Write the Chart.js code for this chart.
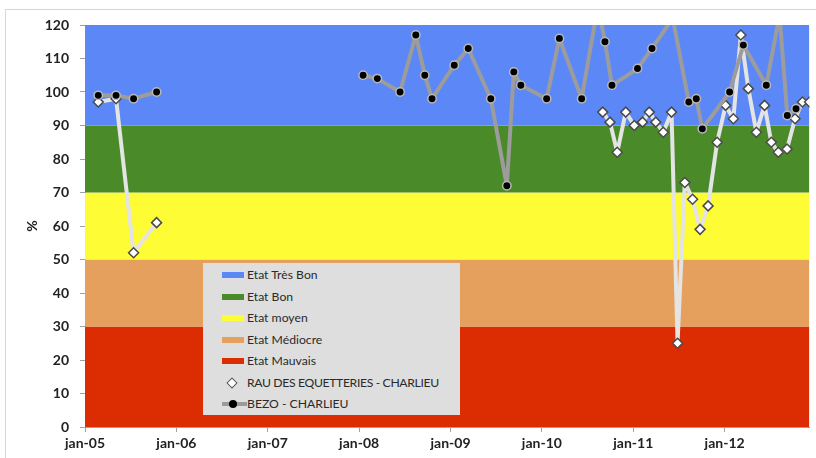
<!DOCTYPE html>
<html>
<head>
<meta charset="utf-8">
<script src="https://cdn.jsdelivr.net/npm/chart.js@4/dist/chart.umd.min.js"></script>
<style>
  html, body { margin: 0; padding: 0; background: #fff; }
  #wrap { position: relative; width: 816px; height: 458px; overflow: hidden; }
  #frame { position: absolute; left: 5px; top: 9px; width: 900px; height: 600px; border: 1px solid #d6d6d6; box-sizing: border-box; }
  canvas { position: absolute; left: 0; top: 0; }
  #legend { position: absolute; left: 203px; top: 263px; width: 257px; height: 152px; background: #dedede; font-family: Lato, "Open Sans", sans-serif; font-size: 12.2px; color: #2a2a2a; }
  .item { position: absolute; left: 0; height: 20px; width: 257px; }
  .sw { position: absolute; left: 19px; top: 7px; width: 22px; height: 6px; }
  .txt { position: absolute; left: 44px; top: 1px; white-space: nowrap; line-height: 18px; }
  .dia { position: absolute; left: 25px; top: 6px; width: 6px; height: 6px; transform: rotate(45deg); background: #fff; border: 1.5px solid #555; }
  .ln { position: absolute; left: 19px; top: 8px; width: 25px; height: 4px; background: #9a9a9a; }
  .dot { position: absolute; left: 26px; top: 6px; width: 8px; height: 8px; border-radius: 50%; background: #000; }
</style>
</head>
<body>
<div id="wrap">
  <div id="frame"></div>
  <canvas id="c" width="816" height="458"></canvas>
  <div id="legend"></div>
</div>
<script>
// ---- data ----
const xTickLabels = ['jan-05','jan-06','jan-07','jan-08','jan-09','jan-10','jan-11','jan-12'];
const yTickValues = [0,10,20,30,40,50,60,70,80,90,100,110,120];

const bandLabels = ['Etat Très Bon','Etat Bon','Etat moyen','Etat Médiocre','Etat Mauvais'];
const bandUpper  = [120, 90, 70, 50, 30];
const bandColors = ['#5b88f6','#4a8a28','#fefc35','#e6a05e','#dc2c02'];

const rauLabel = 'RAU DES EQUETTERIES - CHARLIEU';
const rauDates = ['2005-02-23','2005-05-05','2005-07-14','2005-10-14',
  '2010-09-01','2010-09-30','2010-10-29','2010-12-02','2011-01-05','2011-02-07','2011-03-06','2011-04-01',
  '2011-05-01','2011-06-03','2011-06-27','2011-07-26','2011-08-26','2011-09-25','2011-10-27','2011-12-02',
  '2012-01-05','2012-02-05','2012-03-06','2012-04-05','2012-05-07','2012-06-09','2012-07-06','2012-08-03',
  '2012-09-07','2012-10-09','2012-11-08','2012-12-06'];
const rauValues = [97,98,52,61,
  94,91,82,94,90,91,94,91,
  88,94,25,73,68,59,66,85,
  96,92,117,101,88,96,85,82,
  83,92,97,97];

const bezoLabel = 'BEZO - CHARLIEU';
const bezoDates = ['2005-02-23','2005-05-05','2005-07-14','2005-10-14',
  '2008-01-17','2008-03-14','2008-06-13','2008-08-15','2008-09-20','2008-10-19',
  '2009-01-16','2009-03-13','2009-06-11','2009-08-14','2009-09-11','2009-10-09',
  '2010-01-20','2010-03-12','2010-06-09','2010-08-13','2010-09-10','2010-10-08',
  '2011-01-18','2011-03-17','2011-06-08','2011-08-11','2011-09-10','2011-10-04',
  '2012-01-21','2012-03-16','2012-06-16','2012-08-08','2012-09-08','2012-10-13'];
const bezoValues = [99,99,98,100,
  105,104,100,117,105,98,
  108,113,98,72,106,102,
  98,116,98,126,115,102,
  107,113,122,97,98,89,
  100,114,102,123,93,95];

// ---- helpers ----
function toYear(s) {
  const d = new Date(s + 'T00:00:00Z');
  const y = d.getUTCFullYear();
  const a = Date.UTC(y, 0, 1), b = Date.UTC(y + 1, 0, 1);
  return y + (d.getTime() - a) / (b - a);
}
const tickYears = xTickLabels.map(l => 2000 + parseInt(l.slice(4), 10));
const xMin = tickYears[0];
const xMax = toYear(rauDates[rauDates.length - 1]);

const pts = (dates, vals) => dates.map((d, i) => ({ x: toYear(d), y: vals[i] }));

const datasets = bandLabels.map((lab, i) => ({
  label: lab,
  data: [{ x: xMin, y: bandUpper[i] }, { x: xMax, y: bandUpper[i] }],
  borderWidth: 0,
  borderColor: 'rgba(0,0,0,0)',
  backgroundColor: bandColors[i],
  pointRadius: 0,
  fill: i < bandLabels.length - 1 ? i + 1 : 'origin',
  order: 10,
  _swatch: bandColors[i]
}));

datasets.push({
  label: rauLabel,
  data: pts(rauDates, rauValues),
  borderColor: '#e4e4e4',
  borderWidth: 4,
  borderJoinStyle: 'round',
  borderCapStyle: 'round',
  backgroundColor: '#ffffff',
  pointStyle: 'rectRot',
  pointRadius: 5,
  pointBorderColor: '#4a4a4a',
  pointBorderWidth: 1.5,
  pointBackgroundColor: '#ffffff',
  spanGaps: 1,
  fill: false,
  order: 2,
  _kind: 'diamond'
});
datasets.push({
  label: bezoLabel,
  data: pts(bezoDates, bezoValues),
  borderColor: '#9c9c9c',
  borderWidth: 4,
  borderJoinStyle: 'round',
  borderCapStyle: 'round',
  backgroundColor: '#000',
  pointStyle: 'circle',
  pointRadius: 4.2,
  pointBorderColor: '#b8b8b8',
  pointBorderWidth: 1.5,
  pointBackgroundColor: '#000000',
  spanGaps: 1,
  fill: false,
  order: 1,
  _kind: 'linedot'
});

const tickFont = { family: 'Lato, "Open Sans", sans-serif', size: 14, weight: 'bold' };

const chart = new Chart(document.getElementById('c'), {
  type: 'line',
  data: { datasets },
  options: {
    responsive: false,
    animation: false,
    devicePixelRatio: 1,
    layout: { padding: { top: 25, right: 4, left: 0, bottom: 0 } },
    plugins: { legend: { display: false }, tooltip: { enabled: false } },
    elements: { line: { tension: 0 } },
    scales: {
      x: {
        type: 'linear',
        min: xMin,
        max: xMax,
        afterBuildTicks: s => { s.ticks = tickYears.map(v => ({ value: v })); },
        afterFit: s => { s.height = 31; },
        ticks: {
          autoSkip: false,
          maxRotation: 0,
          padding: 3,
          color: '#222',
          font: tickFont,
          callback: (v) => { const i = tickYears.indexOf(v); return i >= 0 ? xTickLabels[i] : ''; }
        },
        grid: { drawOnChartArea: false, drawTicks: true, tickLength: 5, color: '#a0a0a0' },
        border: { display: true, color: '#a0a0a0' }
      },
      y: {
        type: 'linear',
        min: 0,
        max: 120,
        afterBuildTicks: s => { s.ticks = yTickValues.map(v => ({ value: v })); },
        afterFit: s => { s.width = 85; },
        ticks: { padding: 11, color: '#222', font: tickFont },
        grid: { drawOnChartArea: false, drawTicks: true, tickLength: 5, color: '#a0a0a0' },
        border: { display: true, color: '#a0a0a0' },
        title: { display: true, text: '%', color: '#222', font: { family: 'Lato, "Open Sans", sans-serif', size: 14, weight: 'bold' }, padding: { top: 24, bottom: 0 } }
      }
    }
  }
});

// ---- HTML legend built from datasets ----
const leg = document.getElementById('legend');
const rowTops = 2;
chart.data.datasets.forEach((ds, i) => {
  const row = document.createElement('div');
  row.className = 'item';
  row.style.top = (rowTops + i * 21.5) + 'px';
  if (ds._kind === 'diamond') {
    const m = document.createElement('div'); m.className = 'dia'; row.appendChild(m);
  } else if (ds._kind === 'linedot') {
    const l = document.createElement('div'); l.className = 'ln'; row.appendChild(l);
    const d = document.createElement('div'); d.className = 'dot'; row.appendChild(d);
  } else {
    const s = document.createElement('div'); s.className = 'sw'; s.style.background = ds._swatch; row.appendChild(s);
  }
  const t = document.createElement('div'); t.className = 'txt'; t.textContent = ds.label;
  if (ds._kind === 'diamond') t.style.letterSpacing = '-0.35px';
  row.appendChild(t);
  leg.appendChild(row);
});
</script>
</body>
</html>
